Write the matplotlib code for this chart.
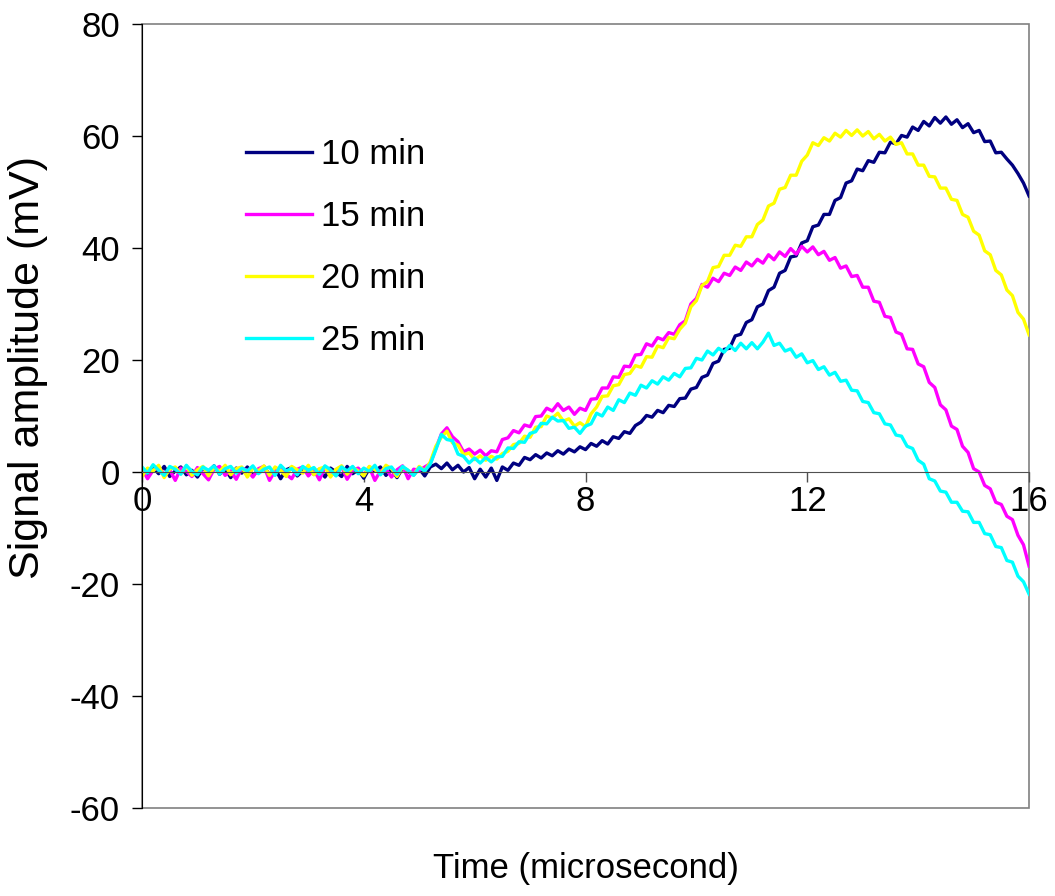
import numpy as np
import matplotlib
matplotlib.use("Agg")
import matplotlib.pyplot as plt
from matplotlib.patches import Rectangle

plt.rcParams['font.family'] = ['Liberation Sans', 'DejaVu Sans']
plt.rcParams['axes.unicode_minus'] = False

# time axis in microseconds, one sample every 0.1 us
time_us = np.round(np.arange(161) * 0.1, 1)

# signal amplitude (mV)
sig_10min = [
    0.4, -0.6, 0.8, -0.3, 1.0, -0.8, 0.2, 0.9, -0.5, 0.3,
    -0.9, 0.6, 0.1, 1.1, -0.4, 0.5, -1.0, 0.7, -0.2, 0.9,
    -0.6, 0.3, 1.0, -0.5, 0.6, -1.2, 0.4, 0.8, -0.7, 0.2,
    0.9, -0.4, 0.5, -0.9, 0.7, 0.0, -0.8, 1.0, -0.3, 0.4,
    -1.1, 0.6, 0.2, 0.9, -0.6, 0.5, -1.0, 0.7, 0.1, -0.5,
    0.6, -0.7, 0.9, 1.4, 0.6, 1.6, 0.4, 1.2, 0.0, 0.8,
    -1.2, 0.5, -0.9, 0.7, -1.5, 0.9, 0.3, 1.6, 1.2, 2.6,
    2.2, 3.1, 2.5, 3.4, 2.9, 3.8, 3.2, 4.1, 3.6, 4.5,
    4.0, 5.1, 4.6, 5.6, 5.0, 6.3, 6.0, 7.2, 6.9, 8.3,
    8.9, 10.1, 9.8, 11.0, 10.6, 11.9, 11.7, 13.1, 13.2, 14.8,
    15.1, 16.9, 17.3, 19.4, 19.8, 21.9, 22.1, 24.3, 24.6, 26.7,
    27.2, 29.5, 30.0, 32.4, 33.0, 35.5, 36.0, 38.4, 38.6, 40.9,
    41.3, 43.8, 44.1, 46.0, 46.0, 48.5, 49.0, 51.6, 52.0, 54.1,
    53.8, 55.6, 55.3, 57.1, 57.0, 58.9, 58.6, 60.1, 59.8, 61.6,
    61.0, 62.6, 61.8, 63.3, 62.3, 63.4, 62.1, 62.9, 61.5, 62.2,
    60.6, 61.0, 59.0, 59.1, 57.0, 57.1, 55.9, 54.8, 53.3, 51.6,
    49.3,
]
sig_15min = [
    0.6, -1.2, 0.3, 0.9, -0.5, 0.4, -1.5, 0.7, 0.1, -0.8,
    0.8, -0.3, -1.4, 0.5, 1.0, -0.6, 0.2, -1.3, 0.7, 0.3,
    -0.9, 0.6, 1.0, -1.5, 0.2, 0.8, -0.4, -1.2, 0.5, 0.9,
    -0.7, 0.4, -1.4, 0.8, 0.1, -0.6, 1.0, -1.3, 0.3, 0.7,
    -0.5, 0.9, -1.5, 0.2, 0.6, -0.9, 0.4, 1.1, -1.2, 0.5,
    0.3, 0.9, 1.5, 4.2, 6.8, 7.9, 6.3, 5.4, 3.6, 4.1,
    3.2, 3.9, 2.9, 3.8, 3.6, 5.8, 6.1, 7.4, 7.0, 8.4,
    8.1, 9.9, 10.0, 11.4, 10.9, 12.2, 11.0, 11.6, 10.3, 11.4,
    11.0, 13.0, 13.1, 15.0, 15.0, 17.0, 16.9, 18.9, 18.8, 20.9,
    21.0, 22.9, 22.5, 24.0, 23.6, 24.9, 24.6, 26.3, 27.0, 30.0,
    31.0, 33.5, 33.0, 34.6, 34.0, 35.5, 35.1, 36.6, 36.0, 37.5,
    36.8, 38.0, 37.3, 38.8, 37.9, 39.3, 38.5, 39.9, 38.9, 40.3,
    39.3, 40.2, 38.8, 39.4, 37.8, 38.3, 36.4, 36.8, 34.9, 35.1,
    33.0, 33.0, 30.5, 30.3, 27.8, 27.6, 25.0, 24.6, 22.0, 21.9,
    19.3, 18.8, 16.0, 15.1, 12.0, 11.1, 8.2, 7.6, 4.6, 3.5,
    0.6, 0.0, -2.4, -3.0, -5.4, -5.8, -7.9, -8.5, -11.3, -13.0,
    -16.8,
]
sig_20min = [
    -0.8, 0.7, 0.2, 1.2, -1.0, 0.5, 0.9, -0.3, 1.1, -0.6,
    0.4, 1.0, -0.7, 0.8, 0.1, 1.2, -0.5, 0.6, 0.9, -0.9,
    0.7, 0.2, 1.1, -0.6, 0.9, 0.3, -0.8, 1.0, 0.4, -0.2,
    1.2, -0.5, 0.6, 0.9, -0.9, 0.5, 1.1, -0.4, 0.8, 0.2,
    -0.7, 1.0, 0.4, -0.3, 1.2, 0.6, -0.8, 0.9, 0.3, -0.5,
    1.0, 0.2, 1.8, 4.6, 6.2, 7.3, 5.2, 4.8, 3.1, 3.4,
    2.2, 2.9, 2.1, 2.8, 2.3, 3.3, 3.7, 4.9, 5.1, 6.4,
    6.2, 8.0, 8.1, 10.0, 9.6, 10.5, 9.1, 9.5, 8.2, 8.8,
    8.1, 10.4, 11.6, 13.5, 13.6, 15.4, 15.6, 17.4, 17.6, 19.0,
    18.7, 20.6, 20.5, 22.5, 22.2, 24.0, 23.8, 25.5, 26.6, 29.5,
    30.6, 33.3, 34.0, 36.5, 36.7, 38.7, 38.7, 40.5, 40.3, 42.0,
    42.0, 44.2, 45.0, 47.5, 48.0, 50.5, 50.8, 53.0, 53.0, 55.5,
    56.6, 58.8, 58.3, 59.7, 59.1, 60.5, 59.8, 61.0, 60.1, 61.1,
    60.0, 60.8, 59.5, 60.3, 59.1, 59.8, 58.5, 58.8, 56.8, 56.8,
    54.8, 54.8, 52.8, 52.7, 50.7, 50.7, 48.7, 48.5, 46.0, 45.5,
    43.0, 42.3, 39.5, 38.8, 36.0, 35.2, 32.5, 31.5, 28.5, 27.3,
    24.5,
]
sig_25min = [
    0.9, -0.2, 1.3, 0.3, -0.6, 1.0, 0.5, -0.4, 1.2, 0.1,
    -0.5, 0.9, 0.3, 1.1, -0.4, 0.6, 1.0, -0.2, 0.7, 0.2,
    1.1, -0.3, 0.5, 0.9, -0.6, 1.2, 0.2, 0.6, -0.5, 1.0,
    0.3, 0.8, -0.4, 1.1, 0.4, -0.7, 0.9, 0.2, 1.0, -0.3,
    0.7, 0.1, 1.2, -0.5, 0.6, 0.9, -0.4, 1.0, 0.3, -0.6,
    0.8, 0.2, 1.4, 4.0, 6.7, 5.8, 5.6, 3.2, 2.8, 1.6,
    2.5, 1.6, 2.6, 1.8, 2.7, 2.8, 4.3, 4.2, 5.4, 5.3,
    6.9, 7.2, 8.7, 8.6, 9.8, 9.1, 9.2, 7.8, 8.0, 6.9,
    8.2, 8.6, 10.5, 10.0, 11.6, 11.0, 12.9, 12.4, 14.1, 13.7,
    15.5, 15.0, 16.3, 15.7, 17.0, 16.4, 17.6, 17.0, 18.5, 18.6,
    20.3, 20.0, 21.6, 20.9, 22.1, 21.4, 22.6, 21.7, 23.0, 22.0,
    23.1, 22.0, 23.2, 24.8, 22.6, 23.0, 21.6, 22.0, 20.5, 21.1,
    19.5, 19.9, 18.3, 18.8, 17.3, 17.8, 16.2, 16.4, 14.6, 14.5,
    12.6, 12.4, 10.6, 10.4, 8.6, 8.4, 6.6, 6.4, 4.6, 4.2,
    2.1, 1.4, -1.2, -1.6, -3.4, -3.6, -5.4, -5.4, -7.0, -7.1,
    -9.0, -9.0, -11.0, -11.2, -13.3, -13.5, -15.8, -16.1, -18.6, -19.6,
    -21.8,
]

series_labels = ["10 min", "15 min", "20 min", "25 min"]
series_colors = ["#000080", "#FF00FF", "#FFFF00", "#00FFFF"]
x_ticks = [0, 4, 8, 12, 16]
y_ticks = [-60, -40, -20, 0, 20, 40, 60, 80]

fig = plt.figure(figsize=(10.55, 8.96), dpi=100)
ax = fig.add_axes([0.1346, 0.0982, 0.8408, 0.875])

for vals, lab, col in zip([sig_10min, sig_15min, sig_20min, sig_25min],
                          series_labels, series_colors):
    ax.plot(time_us, vals, color=col, lw=2.4, label=lab)

ax.set_xlim(0, 16)
ax.set_ylim(-60, 80)
ax.set_xticks(x_ticks)
ax.set_yticks(y_ticks)

# x axis sits on the zero line, plot area has a grey box
ax.spines['bottom'].set_position(('data', 0))
ax.spines['bottom'].set_color('#505050')
ax.spines['top'].set_visible(False)
ax.spines['right'].set_visible(False)
ax.spines['left'].set_color('black')
ax.add_patch(Rectangle((0, 0), 1, 1, transform=ax.transAxes, fill=False,
                       edgecolor='#808080', lw=1.2, clip_on=False, zorder=0))

ax.tick_params(axis='x', direction='out', length=7, width=1, pad=2,
               labelsize=25, color='#505050')
ax.tick_params(axis='y', direction='out', length=7, width=1, pad=9,
               labelsize=25)
for t in ax.get_xticklabels():
    t.set_x(t.get_position()[0])

ax.set_xlabel("Time (microsecond)", fontsize=25)
ax.set_ylabel("Signal amplitude (mV)", fontsize=31)
ax.xaxis.set_label_coords(0.5, -0.056)
ax.yaxis.set_label_coords(-0.106, 0.5625)

fig.legend(loc='center left', bbox_to_anchor=(0.2332, 0.7238), frameon=False,
           fontsize=25, handlelength=1.9, handletextpad=0.25,
           labelspacing=0.83, borderpad=0, borderaxespad=0)

fig.savefig("out.png", dpi=100)
